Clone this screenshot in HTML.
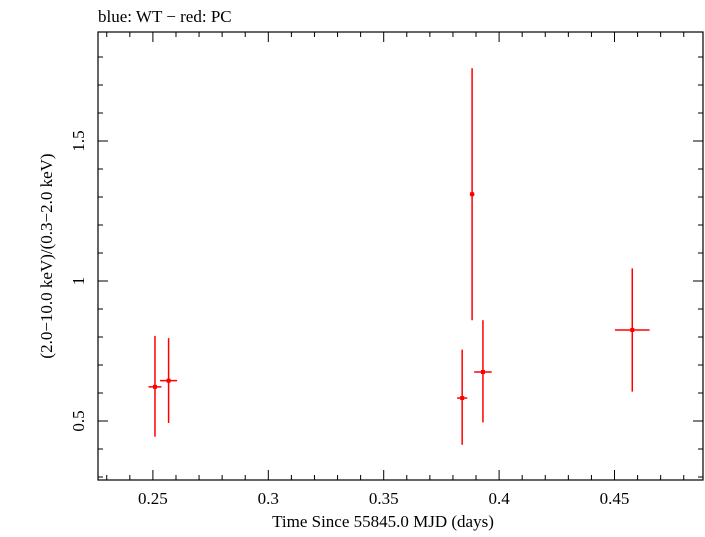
<!DOCTYPE html>
<html><head><meta charset="utf-8"><style>
body{margin:0;background:#fff;}
svg text{font-family:"Liberation Serif",serif;fill:#000;}
</style></head><body>
<svg id="chart" width="705" height="532" xmlns="http://www.w3.org/2000/svg">
<text x="98" y="22" font-size="17">blue: WT − red: PC</text>
<rect x="98" y="32" width="605" height="448" fill="none" stroke="#000" stroke-width="1.2"/>
<g id="axes"></g>
<g id="marks"></g>
<text x="383" y="527" font-size="17" text-anchor="middle">Time Since 55845.0 MJD (days)</text>
<text transform="translate(52,256) rotate(-90)" font-size="17" text-anchor="middle">(2.0−10.0 keV)/(0.3−2.0 keV)</text>
</svg>
<script>
const times=[0.2509,0.2568,0.3840,0.3883,0.3930,0.4577];
const timeErr=[0.0028,0.0037,0.0022,0.0010,0.0038,0.0075];
const ratios=[0.622,0.644,0.582,1.310,0.675,0.825];
const ratioLo=[0.444,0.493,0.415,0.860,0.495,0.605];
const ratioHi=[0.804,0.796,0.755,1.760,0.860,1.045];
const xTicks=[0.25,0.3,0.35,0.4,0.45];
const xTickLabels=["0.25","0.3","0.35","0.4","0.45"];
const yTicks=[0.5,1,1.5];
const yTickLabels=["0.5","1","1.5"];
const L=98,R=703,T=32,B=480;
function xs(v){return 152.9+(v-0.25)*2308;}
function ys(v){return 281-(v-1)*280;}
const NS="http://www.w3.org/2000/svg";
const axes=document.getElementById('axes'),marks=document.getElementById('marks');
function line(p,x1,y1,x2,y2,c,w,name){const l=document.createElementNS(NS,'line');
l.setAttribute('x1',x1);l.setAttribute('y1',y1);l.setAttribute('x2',x2);l.setAttribute('y2',y2);
l.setAttribute('stroke',c);l.setAttribute('stroke-width',w);


p.appendChild(l);}
for(let i=23;i<=49;i++){const v=i/100,x=xs(v);if(x<L||x>R)continue;const major=(i%5===0);const len=major?10:5;
line(axes,x,B,x,B-len,'#000',1,'x-tick');line(axes,x,T,x,T+len,'#000',1,'x-tick');}
for(let i=3;i<=18;i++){const v=i/10,y=ys(v);if(y<T||y>B)continue;const major=(i%5===0);const len=major?10:5;
line(axes,L,y,L+len,y,'#000',1,'y-tick');line(axes,R,y,R-len,y,'#000',1,'y-tick');}
xTicks.forEach((v,i)=>{const t=document.createElementNS(NS,'text');t.setAttribute('x',xs(v));t.setAttribute('y',504);
t.setAttribute('font-size','17');t.setAttribute('text-anchor','middle');t.textContent=xTickLabels[i];


axes.appendChild(t);});
yTicks.forEach((v,i)=>{const t=document.createElementNS(NS,'text');
t.setAttribute('transform','translate(84,'+ys(v)+') rotate(-90)');
t.setAttribute('font-size','17');t.setAttribute('text-anchor','middle');t.textContent=yTickLabels[i];


axes.appendChild(t);});
times.forEach((tv,i)=>{const x=xs(tv),y=ys(ratios[i]);
line(marks,x,ys(ratioLo[i]),x,ys(ratioHi[i]),'#f00',1.5,'pc-error-bar-y');
line(marks,xs(tv-timeErr[i]),y,xs(tv+timeErr[i]),y,'#f00',1.5,'pc-error-bar-x');
const c=document.createElementNS(NS,'rect');c.setAttribute('x',x-2);c.setAttribute('y',y-2);c.setAttribute('width',4);c.setAttribute('height',4);c.setAttribute('fill','#f00');


marks.appendChild(c);});
</script>
</body></html>
